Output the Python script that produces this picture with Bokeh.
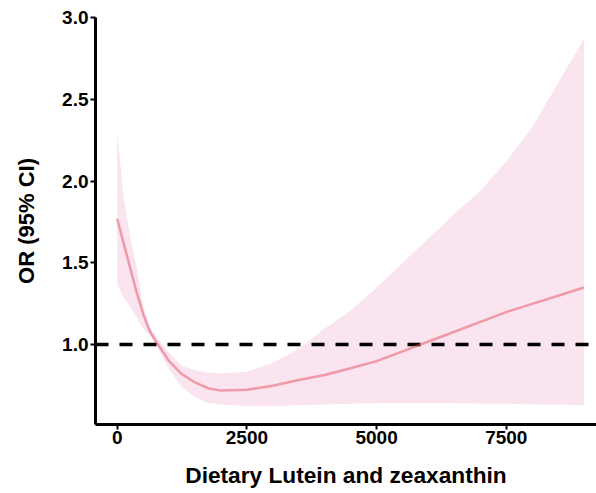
from bokeh.plotting import figure
from bokeh.models import Range1d, FixedTicker, PrintfTickFormatter, LinearAxis
from bokeh.embed import file_html
from bokeh.resources import INLINE

# Data
lutein = [0, 125, 250, 375, 500, 625, 750, 1000, 1250, 1500, 1750, 2000, 2500, 3000,
          3500, 4000, 4500, 5000, 5500, 6000, 6500, 7000, 7500, 8000, 8500, 9000]
or_est = [1.77, 1.62, 1.47, 1.32, 1.19, 1.085, 1.02, 0.90, 0.82, 0.77, 0.735, 0.72,
          0.725, 0.75, 0.785, 0.815, 0.857, 0.90, 0.96, 1.02, 1.08, 1.14, 1.20,
          1.25, 1.30, 1.35]
ci_low = [1.37, 1.29, 1.235, 1.165, 1.10, 1.06, 1.00, 0.85, 0.74, 0.68, 0.645, 0.635,
          0.625, 0.625, 0.63, 0.635, 0.64, 0.645, 0.645, 0.645, 0.645, 0.64, 0.64,
          0.635, 0.635, 0.63]
ci_up = [2.30, 1.90, 1.66, 1.48, 1.24, 1.11, 1.05, 0.95, 0.87, 0.845, 0.83, 0.825,
         0.835, 0.89, 0.975, 1.10, 1.21, 1.35, 1.50, 1.65, 1.80, 1.94, 2.12, 2.33,
         2.60, 2.87]
x_ticks = [0, 2500, 5000, 7500]
y_ticks = [1.0, 1.5, 2.0, 2.5, 3.0]
ref_line = [1.0]

FONT = "Liberation Sans"

p = figure(width=596, height=493, output_backend="svg", toolbar_location=None,
           x_range=Range1d(-418, 9239), y_range=Range1d(0.513, 3.0),
           min_border_left=95, min_border_right=0, min_border_top=17,
           min_border_bottom=69)
p.outline_line_color = None
p.xgrid.visible = False
p.ygrid.visible = False
p.background_fill_color = "white"

p.varea(x=lutein, y1=ci_low, y2=ci_up, fill_color="#F9E4EF", fill_alpha=1.0)
p.hspan(y=ref_line, line_color="black", line_width=3.5, line_dash="13 11")
p.line(x=lutein, y=or_est, line_color="#E8505F", line_alpha=0.5, line_width=2.5)

for ax in (p.xaxis[0], p.yaxis[0]):
    ax.axis_line_color = "black"
    ax.axis_line_width = 3
    ax.major_tick_line_color = "black"
    ax.major_tick_line_width = 2
    ax.major_tick_out = 5
    ax.major_tick_in = 0
    ax.minor_tick_line_color = None
    ax.major_label_text_font = FONT
    ax.major_label_text_font_style = "bold"
    ax.major_label_text_font_size = "19px"
    ax.major_label_text_color = "black"

p.xaxis[0].ticker = FixedTicker(ticks=x_ticks)
p.yaxis[0].ticker = FixedTicker(ticks=y_ticks)
p.yaxis[0].formatter = PrintfTickFormatter(format="%.1f")
p.xaxis[0].major_label_standoff = 1
p.yaxis[0].major_label_standoff = 2

p.yaxis[0].axis_label = "OR (95% CI)"
p.yaxis[0].axis_label_text_font = FONT
p.yaxis[0].axis_label_text_font_style = "bold"
p.yaxis[0].axis_label_text_font_size = "22px"
p.yaxis[0].axis_label_text_color = "black"
p.yaxis[0].axis_label_standoff = 20

# second, invisible axis that only carries the x-axis title (centred like the reference)
lab_axis = LinearAxis(ticker=FixedTicker(ticks=[]), bounds=(0, 9032),
                      axis_line_color=None, major_tick_line_color=None,
                      minor_tick_line_color=None, major_tick_out=0, major_tick_in=0,
                      major_label_standoff=0,
                      axis_label="Dietary Lutein and zeaxanthin",
                      axis_label_standoff=15, axis_label_text_font=FONT,
                      axis_label_text_font_style="bold",
                      axis_label_text_font_size="22.7px",
                      axis_label_text_color="black")
p.add_layout(lab_axis, "below")

open("out.html", "w").write(file_html(p, INLINE))
